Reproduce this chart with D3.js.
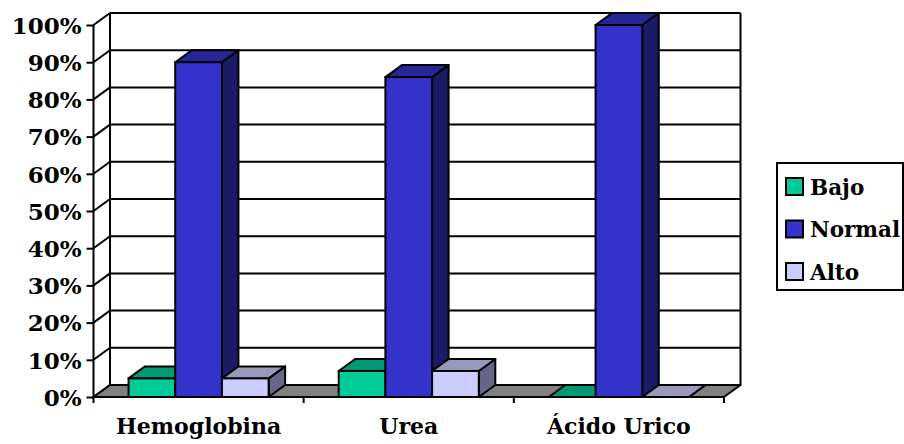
<!DOCTYPE html>
<html>
<head>
<meta charset="utf-8">
<script src="https://cdn.jsdelivr.net/npm/d3@7"></script>
<style>
  html, body { margin: 0; padding: 0; background: #fff; }
  svg { display: block; }
</style>
</head>
<body>
<svg id="chart" width="904" height="444"></svg>
<script>
const categories = ["Hemoglobina", "Urea", "Ácido Urico"];
const seriesNames = ["Bajo", "Normal", "Alto"];
const bajo = [0.05, 0.07, 0.0];
const normal = [0.90, 0.86, 1.0];
const alto = [0.05, 0.07, 0.0];
const yTicks = [0, 0.1, 0.2, 0.3, 0.4, 0.5, 0.6, 0.7, 0.8, 0.9, 1.0];

const seriesValues = [bajo, normal, alto];
const colors = {
  Bajo:   { front: "#00CC99", top: "#009973", side: "#006B52" },
  Normal: { front: "#3333CC", top: "#262699", side: "#1C1C66" },
  Alto:   { front: "#CCCCFF", top: "#9999BB", side: "#666688" }
};

const FONT = "'DejaVu Serif', serif";
const svg = d3.select("#chart");
const dx = 16.5, dy = -12;
const x0 = 93.5, x1 = 724;
const y = d3.scaleLinear().domain([0, 1]).range([397, 25]);
const x = d3.scaleBand().domain(categories).range([x0, x1]).paddingInner(0).paddingOuter(0);
const bw = x.bandwidth() / 4.5;
const xs = d3.scaleBand().domain(seriesNames).range([0, 3 * bw]);

const line = (pts) => "M" + pts.map(p => p.join(",")).join("L");
const poly = (pts) => line(pts) + "Z";
const styleText = (sel, size) => sel.style("font-family", FONT).style("font-weight", "bold")
  .style("font-size", size + "px").style("fill", "#000");

// Back wall gridlines
const g = svg.append("g");
g.selectAll("line.grid").data(yTicks).enter().append("line")
  .attr("x1", x0 + dx).attr("x2", x1 + dx)
  .attr("y1", d => y(d) + dy).attr("y2", d => y(d) + dy)
  .attr("stroke", "#000").attr("stroke-width", 2);
// Side wall diagonals
g.selectAll("line.diag").data(yTicks).enter().append("line")
  .attr("x1", x0).attr("x2", x0 + dx)
  .attr("y1", d => y(d)).attr("y2", d => y(d) + dy)
  .attr("stroke", "#000").attr("stroke-width", 2);
// Back wall verticals
g.append("line").attr("x1", x0 + dx).attr("x2", x0 + dx).attr("y1", y(1) + dy).attr("y2", y(0) + dy)
  .attr("stroke", "#000").attr("stroke-width", 2);
g.append("line").attr("x1", x1 + dx).attr("x2", x1 + dx).attr("y1", y(1) + dy).attr("y2", y(0) + dy)
  .attr("stroke", "#000").attr("stroke-width", 2);

// Floor
g.append("path")
  .attr("d", poly([[x0, y(0)], [x1, y(0)], [x1 + dx, y(0) + dy], [x0 + dx, y(0) + dy]]))
  .attr("fill", "#808080").attr("stroke", "#000").attr("stroke-width", 2).attr("stroke-linejoin", "round");

// Front y axis
const yAxis = d3.axisLeft(y).tickValues(yTicks).tickSize(7).tickPadding(5)
  .tickFormat(d => Math.round(d * 100) + "%");
const ya = svg.append("g").attr("transform", `translate(${x0},0)`).call(yAxis);
ya.attr("font-family", null).attr("font-size", null);
ya.select(".domain").attr("stroke", "#000").attr("stroke-width", 2)
  .attr("d", `M0,${y(1)}V${y(0) + 6}`);
ya.selectAll(".tick line").attr("stroke", "#000").attr("stroke-width", 2);
ya.selectAll(".tick text").call(styleText, 23).attr("dy", "0.36em");

// Bars
categories.forEach((c, ci) => {
  seriesNames.forEach((s, si) => {
    const v = seriesValues[si][ci];
    const bx = x(c) + x.bandwidth() / 2 - 1.5 * bw + xs(s);
    const yt = y(v), yb = y(0);
    const col = colors[s];
    const bar = svg.append("g");
    bar.append("path")
      .attr("d", poly([[bx + bw, yt], [bx + bw + dx, yt + dy], [bx + bw + dx, yb + dy], [bx + bw, yb]]))
      .attr("fill", col.side).attr("stroke", "#000").attr("stroke-width", 2).attr("stroke-linejoin", "round");
    bar.append("path")
      .attr("d", poly([[bx, yt], [bx + dx, yt + dy], [bx + bw + dx, yt + dy], [bx + bw, yt]]))
      .attr("fill", col.top).attr("stroke", "#000").attr("stroke-width", 2).attr("stroke-linejoin", "round");
    if (v > 0) {
      bar.append("rect")
        .attr("x", bx).attr("y", yt).attr("width", bw).attr("height", yb - yt)
        .attr("fill", col.front).attr("stroke", "#000").attr("stroke-width", 2);
    }
  });
});

// Front floor edge and category ticks
svg.append("line").attr("x1", x0).attr("x2", x1).attr("y1", y(0)).attr("y2", y(0))
  .attr("stroke", "#000").attr("stroke-width", 2);
const xAxis = d3.axisBottom(x).tickSize(0).tickPadding(0);
const xa = svg.append("g").attr("transform", `translate(0,${y(0)})`).call(xAxis);
xa.attr("font-family", null).attr("font-size", null);
xa.select(".domain").remove();
xa.selectAll(".tick text").call(styleText, 22).attr("y", 37).attr("dy", 0);
const boundaries = categories.map(c => x(c) + x.bandwidth());
svg.selectAll("line.ctick").data(boundaries).enter().append("line")
  .attr("x1", d => d).attr("x2", d => d).attr("y1", y(0)).attr("y2", y(0) + 6)
  .attr("stroke", "#000").attr("stroke-width", 2);

// Legend
const lg = svg.append("g");
lg.append("rect").attr("x", 777).attr("y", 163).attr("width", 126).attr("height", 127)
  .attr("fill", "#fff").attr("stroke", "#000").attr("stroke-width", 2);
const ly = d3.scalePoint().domain(seriesNames).range([187, 272]);
seriesNames.forEach(s => {
  lg.append("rect").attr("x", 786).attr("y", ly(s) - 9).attr("width", 17).attr("height", 17)
    .attr("fill", colors[s].front).attr("stroke", "#000").attr("stroke-width", 2);
  lg.append("text").attr("x", 810).attr("y", ly(s)).attr("dy", "0.36em")
    .call(styleText, 21.5).text(s);
});
</script>
</body>
</html>
